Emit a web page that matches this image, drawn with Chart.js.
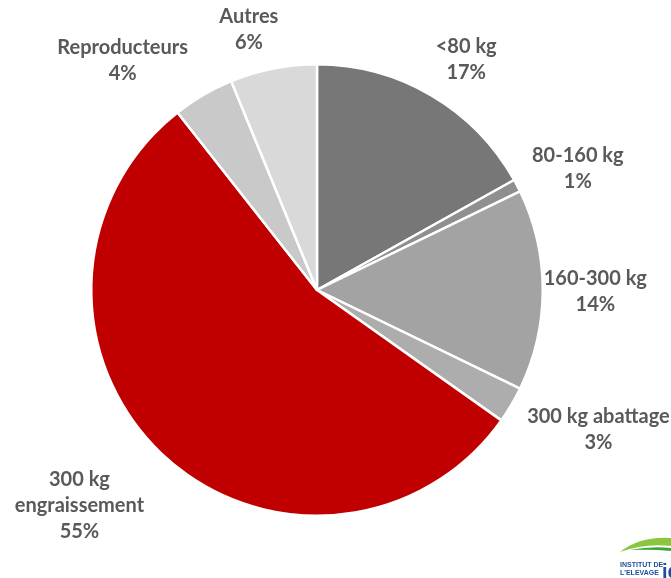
<!DOCTYPE html>
<html>
<head>
<meta charset="utf-8">
<script src="https://cdn.jsdelivr.net/npm/chart.js@4"></script>
<style>
  html, body { margin: 0; padding: 0; background: #ffffff; }
  #wrap { width: 671px; height: 578px; position: relative; }
</style>
</head>
<body>
<div id="wrap"><canvas id="c" width="671" height="578"></canvas></div>
<script>
const categories = ["<80 kg", "80-160 kg", "160-300 kg", "300 kg abattage", "300 kg engraissement", "Reproducteurs", "Autres"];
const labelLines = [["<80 kg"], ["80-160 kg"], ["160-300 kg"], ["300 kg abattage"], ["300 kg", "engraissement"], ["Reproducteurs"], ["Autres"]];
const shares = [16.9, 0.9, 14.4, 2.6, 54.6, 4.4, 6.2];
const sliceColors = ["#777777", "#8f8f8f", "#a3a3a3", "#adadad", "#c00000", "#c9c9c9", "#d9d9d9"];

const FONT = "bold 20px Lato, 'Liberation Sans', sans-serif";
const TEXT_COLOR = "#595959";
const LINE_H = 26;

const outsideLabels = {
  id: 'outsideLabels',
  afterDatasetsDraw(chart, args, opts) {
    const ctx = chart.ctx;
    const meta = chart.getDatasetMeta(0);
    const total = shares.reduce((a, b) => a + b, 0);
    ctx.save();
    ctx.font = FONT;
    ctx.fillStyle = TEXT_COLOR;
    ctx.textAlign = 'center';
    ctx.textBaseline = 'middle';
    meta.data.forEach((arc, i) => {
      const p = arc.getProps(['x', 'y', 'startAngle', 'endAngle', 'outerRadius'], true);
      const a = (p.startAngle + p.endAngle) / 2;
      const lines = labelLines[i].concat([Math.round(shares[i] / total * 100) + '%']);
      const w = Math.max(...lines.map(l => ctx.measureText(l).width));
      const h = lines.length * LINE_H;
      const r = p.outerRadius + opts.gap;
      const nudge = opts.nudges[i] || [0, 0];
      const cx = p.x + Math.cos(a) * (r + w / 2 * Math.abs(Math.cos(a))) + nudge[0];
      const cy = p.y + Math.sin(a) * r + Math.sin(a) * h / 2 + nudge[1];
      lines.forEach((l, k) => {
        ctx.fillText(l, cx, cy - h / 2 + LINE_H / 2 + k * LINE_H);
      });
    });
    ctx.restore();
  }
};

const logo = {
  id: 'logo',
  afterDraw(chart) {
    const ctx = chart.ctx;
    ctx.save();
    ctx.beginPath();
    ctx.moveTo(620, 552);
    ctx.quadraticCurveTo(640, 536, 671, 538);
    ctx.lineTo(671, 546);
    ctx.quadraticCurveTo(645, 543, 620, 552);
    ctx.closePath();
    ctx.fillStyle = '#8cc63f';
    ctx.fill();
    ctx.beginPath();
    ctx.moveTo(630, 550);
    ctx.quadraticCurveTo(650, 546, 671, 548);
    ctx.lineTo(671, 551);
    ctx.quadraticCurveTo(650, 549, 630, 550);
    ctx.closePath();
    ctx.fillStyle = '#3aa935';
    ctx.fill();
    ctx.font = "bold 7px 'Liberation Sans', sans-serif";
    ctx.fillStyle = '#1f4e9c';
    ctx.textAlign = 'left';
    ctx.textBaseline = 'alphabetic';
    ctx.fillText("INSTITUT DE", 620, 567);
    ctx.fillText("L'ELEVAGE", 620, 575);
    ctx.font = "bold 20px 'Liberation Sans', sans-serif";
    ctx.fillText("id", 662, 578);
    ctx.restore();
  }
};

new Chart(document.getElementById('c'), {
  type: 'pie',
  data: {
    labels: categories,
    datasets: [{
      data: shares,
      backgroundColor: sliceColors,
      borderColor: '#ffffff',
      borderWidth: 2.5
    }]
  },
  options: {
    responsive: false,
    animation: false,
    layout: { padding: { left: 90, right: 127, top: 63, bottom: 61 } },
    plugins: {
      legend: { display: false },
      tooltip: { enabled: false },
      outsideLabels: {
        gap: 12,
        nudges: [[21, -3], [14, 0], [-11, 2], [24, 5], [-43, 15], [-58, -2], [-21, -2]]
      }
    }
  },
  plugins: [outsideLabels, logo]
});
</script>
</body>
</html>
